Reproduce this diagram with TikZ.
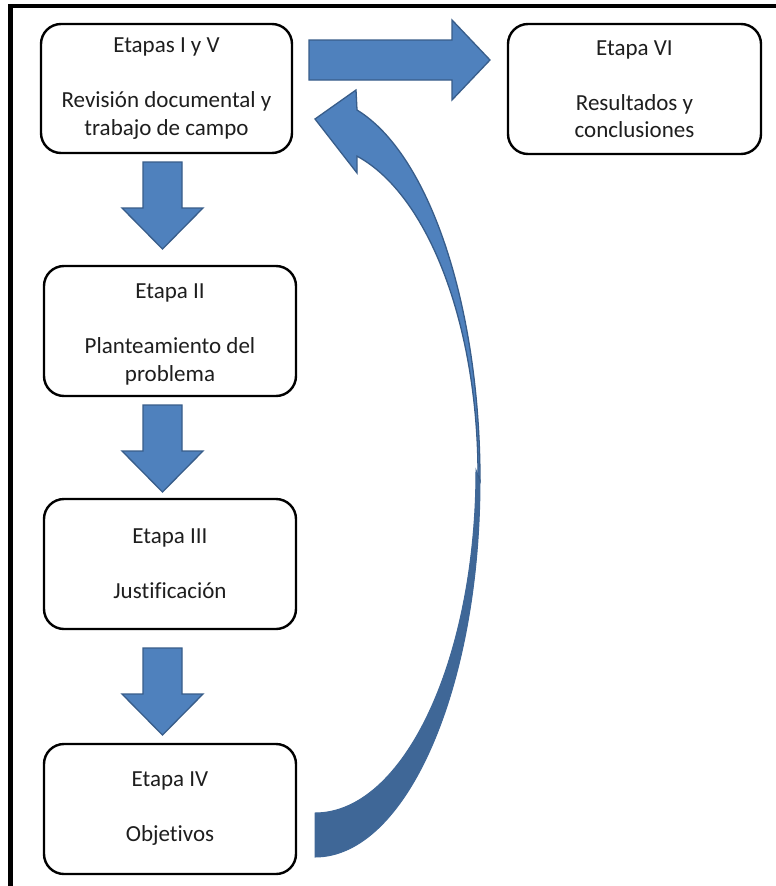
\documentclass[tikz,border=0pt]{standalone}
\usepackage{fontspec}
\setmainfont[Ligatures=NoCommon]{Carlito}
\definecolor{fillblue}{HTML}{4F81BD}
\definecolor{lineblue}{HTML}{385D8A}
\definecolor{darkblue}{HTML}{3F6797}
\definecolor{txt}{HTML}{1E1E1E}
\begin{document}
\begin{tikzpicture}[x=1pt,y=-1pt,
  stage/.style={draw=black, line width=2.4pt, rounded corners=20pt, fill=white,
    align=center, text=txt, font=\fontsize{23}{27.5}\selectfont, inner sep=0pt},
  blockarrow/.style={fill=fillblue, draw=lineblue, line width=1.3pt, line join=miter},
  backface/.style={fill=darkblue, draw=darkblue, line width=1pt},
  downarr/.pic={\draw[blockarrow] (-19.5,0) -- (19.5,0) -- (19.5,46) -- (40.5,46)
     -- (0,87) -- (-40.5,46) -- (-19.5,46) -- cycle;}]
\useasboundingbox (0,0) rectangle (776,886);
\fill[white] (0,0) rectangle (776,886);
% outer frame (left and top edges visible)
\draw[line width=4.5pt] (10.5,890) -- (10.5,6) -- (780,6);

% stage boxes
\node[stage, minimum width=251pt, minimum height=129pt] (s1) at (166.5,88.5)
  {Etapas I y V\\[27.5pt]Revisión documental y\\trabajo de campo};
\node[stage, minimum width=253pt, minimum height=130pt] (s6) at (634.5,89)
  {Etapa VI\\[27.5pt]Resultados y\\conclusiones};
\node[stage, minimum width=252pt, minimum height=130pt] (s2) at (170,331)
  {\rule{0pt}{4pt}\\[-10pt]Etapa II\\[27.5pt]Planteamiento del\\problema};
\node[stage, minimum width=252pt, minimum height=130pt] (s3) at (170,564)
  {Etapa III\\[27.5pt]Justificación};
\node[stage, minimum width=252pt, minimum height=130pt] (s4) at (170,809)
  {Etapa IV\\[27.5pt]Objetivos};

% down block arrows
\pic at (162.5,162) {downarr};
\pic at (162.5,405) {downarr};
\pic at (162.5,648) {downarr};

% right block arrow
\draw[blockarrow] (309,40) -- (452,40) -- (452,20) -- (490,60) -- (452,100)
  -- (452,80) -- (309,80) -- cycle;

% curved arrow: back face (lower part)
\draw[backface] (480,480) arc[start angle=0, end angle=90, x radius=165, y radius=377]
  -- (315,813) arc[start angle=90, end angle=0, x radius=161, y radius=343] -- cycle;
% curved arrow: front face with head
\draw[blockarrow] (315,119) -- (356,90) -- (357,110)
  arc[start angle=-75.25, end angle=0, x radius=165, y radius=383]
  -- (478,475) arc[start angle=0, end angle=-75.07, x radius=163, y radius=330]
  -- (357,173) -- cycle;
\end{tikzpicture}
\end{document}
